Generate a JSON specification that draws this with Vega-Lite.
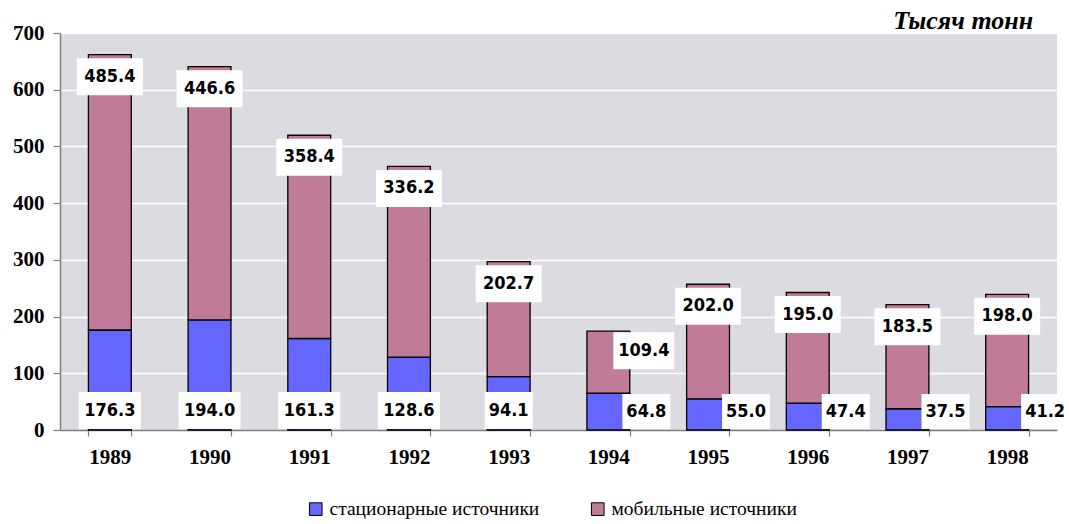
{
  "$schema": "https://vega.github.io/schema/vega-lite/v6.json",
  "width": 997,
  "height": 397,
  "autosize": {"type": "none"},
  "padding": {"left": 60, "top": 33, "right": 12, "bottom": 94},
  "background": "white",
  "title": {"text": "Тысяч тонн", "anchor": "end", "font": "Liberation Serif", "fontSize": 26, "fontStyle": "italic", "fontWeight": "bold", "color": "black", "dx": -36, "dy": 17, "offset": 5},
  "config": {
    "view": {"fill": "#dcdbe2", "stroke": null},
    "axis": {"domainColor": "#7f7f7f", "domainWidth": 1.5, "tickColor": "#7f7f7f", "tickWidth": 1.2, "labelColor": "black", "labelFont": "Liberation Serif", "labelFontWeight": "bold", "labelFontSize": 21, "title": null}
  },
  "data": {"values": [
    {"year": 1989, "type": "стационарные источники", "value": 176.3},
    {"year": 1989, "type": "мобильные источники", "value": 485.4},
    {"year": 1990, "type": "стационарные источники", "value": 194.0},
    {"year": 1990, "type": "мобильные источники", "value": 446.6},
    {"year": 1991, "type": "стационарные источники", "value": 161.3},
    {"year": 1991, "type": "мобильные источники", "value": 358.4},
    {"year": 1992, "type": "стационарные источники", "value": 128.6},
    {"year": 1992, "type": "мобильные источники", "value": 336.2},
    {"year": 1993, "type": "стационарные источники", "value": 94.1},
    {"year": 1993, "type": "мобильные источники", "value": 202.7},
    {"year": 1994, "type": "стационарные источники", "value": 64.8},
    {"year": 1994, "type": "мобильные источники", "value": 109.4},
    {"year": 1995, "type": "стационарные источники", "value": 55.0},
    {"year": 1995, "type": "мобильные источники", "value": 202.0},
    {"year": 1996, "type": "стационарные источники", "value": 47.4},
    {"year": 1996, "type": "мобильные источники", "value": 195.0},
    {"year": 1997, "type": "стационарные источники", "value": 37.5},
    {"year": 1997, "type": "мобильные источники", "value": 183.5},
    {"year": 1998, "type": "стационарные источники", "value": 41.2},
    {"year": 1998, "type": "мобильные источники", "value": 198.0}
  ]},
  "transform": [
    {"stack": "value", "groupby": ["year"], "sort": [{"field": "type", "order": "descending"}], "as": ["v0", "v1"]}
  ],
  "encoding": {
    "x": {"field": "year", "type": "ordinal", "scale": {"paddingInner": 0.57, "paddingOuter": 0.285},
      "axis": {"labelAngle": 0, "tickBand": "extent", "tickSize": 6, "labelPadding": 10, "grid": false}}
  },
  "layer": [
    {
      "mark": {"type": "bar", "stroke": "black", "strokeWidth": 1.3},
      "encoding": {
        "y": {"field": "v0", "type": "quantitative", "scale": {"domain": [0, 700], "nice": false},
          "axis": {"values": [0, 100, 200, 300, 400, 500, 600, 700], "tickSize": 7, "labelPadding": 9, "grid": true, "gridColor": "white", "gridWidth": 1.5}},
        "y2": {"field": "v1"},
        "fill": {"field": "type", "type": "nominal",
          "scale": {"domain": ["стационарные источники", "мобильные источники"], "range": ["#6565ff", "#bf7b98"]},
          "legend": {"orient": "none", "legendX": 246, "legendY": 466, "direction": "horizontal", "title": null,
            "labelFont": "Liberation Serif", "labelFontSize": 19.5, "labelColor": "black", "labelLimit": 500, "symbolType": "square",
            "symbolSize": 160, "symbolStrokeColor": "black", "symbolStrokeWidth": 1, "columnPadding": 48, "labelOffset": 4}}
      }
    },
    {
      "transform": [{"filter": "datum.type === 'мобильные источники' && datum.year !== 1994"}],
      "mark": {"type": "point", "shape": "M-33,3.5H33V40.5H-33Z", "size": 4, "filled": true, "fill": "white", "strokeWidth": 0, "opacity": 1},
      "encoding": {"y": {"field": "v1", "type": "quantitative"}}
    },
    {
      "transform": [{"filter": "datum.type === 'мобильные источники' && datum.year !== 1994"}],
      "mark": {"type": "text", "font": "DejaVu Sans Condensed", "fontWeight": "bold", "fontSize": 18, "baseline": "middle", "dy": 22, "color": "black"},
      "encoding": {"y": {"field": "v1", "type": "quantitative"}, "text": {"field": "value", "type": "quantitative", "format": ".1f"}}
    },
    {
      "transform": [{"filter": "datum.type === 'мобильные источники' && datum.year === 1994"}],
      "mark": {"type": "point", "shape": "M5,1H66V38H5Z", "size": 4, "filled": true, "fill": "white", "strokeWidth": 0, "opacity": 1},
      "encoding": {"y": {"field": "v1", "type": "quantitative"}}
    },
    {
      "transform": [{"filter": "datum.type === 'мобильные источники' && datum.year === 1994"}],
      "mark": {"type": "text", "font": "DejaVu Sans Condensed", "fontWeight": "bold", "fontSize": 18, "baseline": "middle", "dx": 35.5, "dy": 19.5, "color": "black"},
      "encoding": {"y": {"field": "v1", "type": "quantitative"}, "text": {"field": "value", "type": "quantitative", "format": ".1f"}}
    },
    {
      "transform": [{"filter": "datum.type === 'стационарные источники' && datum.year < 1993"}],
      "mark": {"type": "point", "shape": "M-31,-38H31V-1H-31Z", "size": 4, "filled": true, "fill": "white", "strokeWidth": 0, "opacity": 1},
      "encoding": {"y": {"datum": 0}}
    },
    {
      "transform": [{"filter": "datum.type === 'стационарные источники' && datum.year === 1993"}],
      "mark": {"type": "point", "shape": "M-24,-38H24V-1H-24Z", "size": 4, "filled": true, "fill": "white", "strokeWidth": 0, "opacity": 1},
      "encoding": {"y": {"datum": 0}}
    },
    {
      "transform": [{"filter": "datum.type === 'стационарные источники' && datum.year <= 1993"}],
      "mark": {"type": "text", "font": "DejaVu Sans Condensed", "fontWeight": "bold", "fontSize": 18, "baseline": "middle", "dy": -19.5, "color": "black"},
      "encoding": {"y": {"datum": 0}, "text": {"field": "value", "type": "quantitative", "format": ".1f"}}
    },
    {
      "transform": [{"filter": "datum.type === 'стационарные источники' && datum.year >= 1994"}],
      "mark": {"type": "point", "shape": "M14,-36H62V-1H14Z", "size": 4, "filled": true, "fill": "white", "strokeWidth": 0, "opacity": 1},
      "encoding": {"y": {"datum": 0}}
    },
    {
      "transform": [{"filter": "datum.type === 'стационарные источники' && datum.year >= 1994"}],
      "mark": {"type": "text", "font": "DejaVu Sans Condensed", "fontWeight": "bold", "fontSize": 18, "baseline": "middle", "dx": 38, "dy": -18, "color": "black"},
      "encoding": {"y": {"datum": 0}, "text": {"field": "value", "type": "quantitative", "format": ".1f"}}
    }
  ]
}
